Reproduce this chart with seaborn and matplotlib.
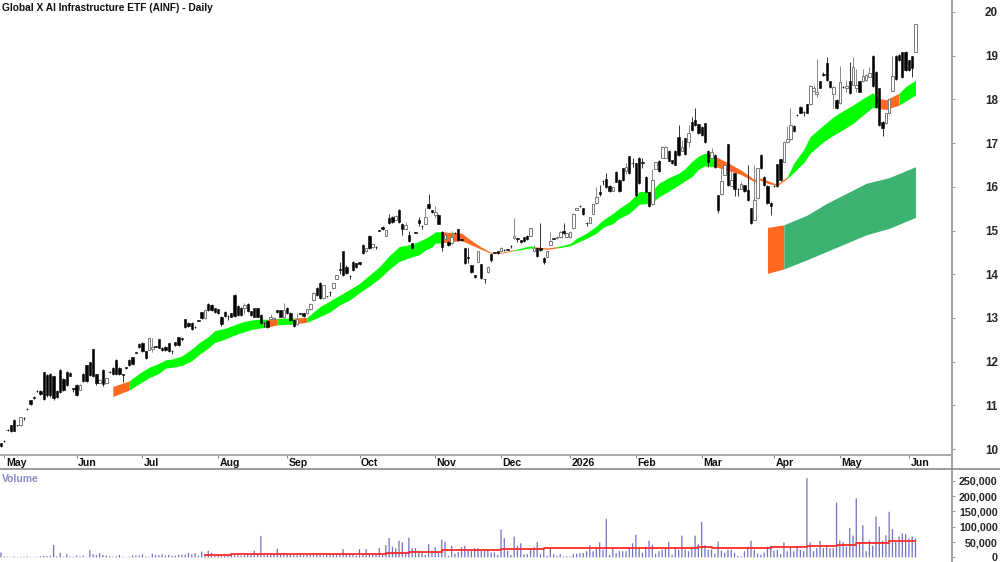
import numpy as np
import matplotlib
import matplotlib.pyplot as plt
import seaborn as sns

matplotlib.use("Agg")

# daily candles
opens = [
    10.13, 10.19, 10.44, 10.55, 10.67, 10.55, 10.54, 10.72, 10.92, 11.11,
    11.20, 11.33, 11.33, 11.76, 11.70, 11.72, 11.66, 11.33, 11.80, 11.60,
    11.77, 11.75, 11.39, 11.47, 11.35, 11.72, 11.92, 11.98, 12.28, 11.71,
    11.52, 11.81, 11.50, 11.77, 11.85, 12.04, 11.85, 11.71, 11.87, 12.04,
    12.10, 12.21, 12.40, 12.42, 12.24, 12.27, 12.28, 12.35, 12.51, 12.32,
    12.34, 12.42, 12.25, 12.44, 12.56, 12.53, 12.97, 12.89, 12.89, 12.80,
    12.95, 13.13, 12.99, 13.31, 13.30, 13.22, 13.20, 13.03, 13.13, 13.05,
    13.11, 13.53, 13.27, 13.22, 13.22, 13.32, 13.15, 13.22, 13.22, 13.07,
    12.89, 12.94, 12.97, 12.97, 13.17, 13.17, 13.03, 13.22, 13.12, 12.95,
    12.86, 13.11, 13.11, 13.11, 13.20, 13.40, 13.68, 13.81, 13.45, 13.50,
    13.60, 13.68, 13.90, 14.11, 14.53, 14.17, 13.97, 14.29, 14.25, 14.27,
    14.67, 14.52, 14.88, 14.62, 14.63, 15.00, 15.09, 14.88, 15.28, 15.32,
    15.24, 15.48, 15.16, 15.03, 14.90, 14.71, 14.96, 15.24, 15.11, 15.16,
    15.60, 15.47, 15.35, 15.36, 14.97, 14.80, 14.74, 14.71, 14.95, 15.03,
    14.80, 14.59, 14.39, 14.20, 13.98, 14.29, 14.23, 13.89, 14.04, 14.46,
    14.50, 14.53, 14.52, 14.56, 14.57, 14.65, 14.82, 14.82, 14.78, 14.84,
    14.88, 14.88, 14.52, 14.59, 14.60, 14.38, 14.40, 14.67, 14.82, 14.82,
    14.84, 14.99, 14.86, 14.84, 15.05, 15.47, 15.56, 15.51, 15.18, 15.18,
    15.38, 15.62, 15.87, 16.14, 16.17, 16.02, 15.91, 16.35, 16.16, 16.42,
    16.37, 16.70, 16.55, 16.54, 16.67, 16.56, 16.23, 15.87, 15.60, 16.41,
    16.60, 16.67, 16.67, 16.83, 16.61, 16.83, 17.15, 16.82, 17.11, 17.02,
    17.49, 17.54, 17.43, 17.37, 17.45, 16.83, 16.67, 16.73, 15.81, 15.83,
    16.27, 16.98, 16.02, 16.31, 15.96, 15.96, 16.04, 15.93, 15.51, 15.24,
    15.74, 16.73, 16.23, 16.02, 15.64, 16.02, 16.52, 16.63, 16.57, 17.02,
    17.09, 17.40, 17.65, 17.83, 17.72, 17.89, 17.89, 18.20, 18.12, 18.41,
    18.57, 18.84, 18.41, 18.12, 17.99, 17.91, 18.29, 18.27, 18.42, 18.33,
    18.27, 18.42, 18.41, 18.44, 18.52, 19.00, 18.63, 18.25, 17.49, 17.45,
    17.68, 18.20, 19.00, 19.02, 19.08, 19.09, 18.90, 18.99, 19.09,
]
closes = [
    10.07, 10.18, 10.43, 10.42, 10.42, 10.54, 10.73, 10.71, 10.91, 11.03,
    11.16, 11.32, 11.25, 11.15, 11.24, 11.24, 11.16, 11.18, 11.31, 11.35,
    11.47, 11.68, 11.38, 11.24, 11.46, 11.56, 11.56, 11.69, 11.66, 11.50,
    11.58, 11.48, 11.63, 11.76, 11.71, 11.71, 11.71, 11.70, 11.86, 11.92,
    11.95, 12.20, 12.34, 12.25, 12.08, 12.53, 12.34, 12.34, 12.32, 12.27,
    12.27, 12.24, 12.24, 12.37, 12.37, 12.52, 12.80, 12.82, 12.74, 12.79,
    12.94, 12.99, 13.18, 13.18, 13.18, 13.14, 13.11, 12.86, 13.05, 13.04,
    13.03, 13.05, 13.07, 13.07, 13.30, 13.15, 13.07, 13.03, 13.03, 12.88,
    12.88, 12.79, 13.03, 13.00, 13.13, 13.03, 13.18, 13.11, 12.95, 12.82,
    12.97, 13.10, 13.05, 13.20, 13.32, 13.58, 13.53, 13.46, 13.75, 13.49,
    13.59, 13.79, 13.98, 14.10, 13.98, 14.02, 13.96, 14.10, 14.17, 14.23,
    14.48, 14.59, 14.59, 14.68, 14.62, 14.99, 15.04, 15.01, 15.18, 15.20,
    15.34, 15.20, 15.03, 15.13, 14.76, 14.59, 14.95, 15.18, 15.10, 15.32,
    15.52, 15.42, 15.43, 15.16, 14.63, 14.90, 14.67, 14.84, 14.94, 14.78,
    14.79, 14.25, 14.38, 14.04, 13.93, 14.52, 13.91, 13.88, 14.17, 14.33,
    14.49, 14.48, 14.60, 14.55, 14.56, 14.64, 14.88, 14.81, 14.73, 14.75,
    14.80, 15.05, 14.59, 14.42, 14.55, 14.27, 14.52, 14.76, 14.81, 14.86,
    14.97, 14.94, 14.94, 14.97, 15.38, 15.51, 15.55, 15.38, 15.17, 15.30,
    15.60, 15.77, 15.83, 16.13, 16.00, 15.91, 15.99, 16.12, 15.90, 16.16,
    16.46, 16.32, 16.54, 15.81, 16.08, 16.55, 15.89, 15.56, 16.15, 16.56,
    16.37, 16.92, 16.92, 16.60, 16.54, 16.51, 16.73, 16.92, 16.75, 17.22,
    17.30, 17.41, 17.22, 17.19, 17.03, 16.57, 16.80, 16.46, 15.47, 16.13,
    16.50, 16.04, 16.15, 15.96, 15.95, 16.06, 15.91, 15.70, 15.18, 15.70,
    16.42, 16.42, 16.04, 15.62, 15.55, 16.01, 16.02, 16.15, 17.03, 17.09,
    17.41, 17.28, 17.64, 17.70, 17.71, 17.70, 18.31, 18.27, 18.18, 18.27,
    18.56, 18.44, 18.29, 18.29, 17.81, 18.39, 18.28, 18.30, 18.15, 18.73,
    18.33, 18.18, 18.54, 18.56, 18.60, 18.31, 17.82, 17.41, 17.34, 17.68,
    18.00, 18.54, 18.46, 18.90, 18.52, 18.67, 18.67, 18.72, 19.72,
]
highs = [
    10.14, 10.20, 10.45, 10.56, 10.68, 10.56, 10.74, 10.73, 10.93, 11.12,
    11.21, 11.34, 11.35, 11.77, 11.72, 11.74, 11.67, 11.35, 11.82, 11.62,
    11.78, 11.76, 11.40, 11.48, 11.48, 11.74, 11.93, 12.00, 12.29, 11.72,
    11.60, 11.83, 11.64, 11.78, 11.87, 12.06, 11.87, 11.72, 11.88, 12.05,
    12.11, 12.22, 12.42, 12.44, 12.25, 12.54, 12.53, 12.36, 12.52, 12.33,
    12.35, 12.43, 12.26, 12.45, 12.57, 12.54, 12.98, 12.90, 12.90, 12.81,
    12.96, 13.14, 13.20, 13.33, 13.31, 13.23, 13.21, 13.05, 13.15, 13.06,
    13.12, 13.54, 13.30, 13.24, 13.35, 13.33, 13.16, 13.23, 13.23, 13.08,
    12.90, 12.96, 13.10, 13.02, 13.18, 13.18, 13.33, 13.24, 13.13, 12.96,
    13.11, 13.12, 13.12, 13.21, 13.33, 13.60, 13.70, 13.83, 13.76, 13.51,
    13.61, 13.80, 13.99, 14.28, 14.54, 14.20, 13.98, 14.30, 14.26, 14.28,
    14.68, 14.60, 14.89, 14.69, 14.64, 15.01, 15.10, 15.02, 15.38, 15.33,
    15.35, 15.49, 15.17, 15.20, 14.98, 14.72, 14.97, 15.32, 15.12, 15.52,
    15.83, 15.48, 15.55, 15.37, 15.00, 14.97, 14.75, 15.00, 14.96, 15.04,
    14.81, 14.60, 14.59, 14.21, 13.99, 14.53, 14.24, 13.90, 14.18, 14.47,
    14.51, 14.54, 14.62, 14.57, 14.58, 14.66, 15.28, 14.83, 14.79, 14.85,
    14.89, 15.06, 14.67, 14.60, 15.17, 14.39, 14.53, 14.96, 14.83, 14.87,
    14.98, 15.17, 14.95, 14.98, 15.39, 15.52, 15.58, 15.52, 15.19, 15.31,
    15.61, 16.00, 16.05, 16.15, 16.32, 16.03, 16.00, 16.36, 16.17, 16.43,
    16.54, 16.71, 16.65, 16.55, 16.68, 16.65, 16.24, 15.88, 16.40, 16.57,
    16.61, 16.93, 16.93, 16.84, 16.62, 16.84, 17.42, 17.07, 17.12, 17.41,
    17.60, 17.81, 17.44, 17.38, 17.46, 16.84, 16.88, 16.74, 15.82, 16.46,
    16.51, 16.99, 16.46, 16.32, 15.97, 16.12, 16.05, 16.50, 15.52, 16.50,
    16.43, 16.74, 16.24, 16.03, 15.65, 16.03, 16.53, 16.64, 17.04, 17.38,
    17.80, 17.41, 17.66, 17.84, 17.73, 17.90, 18.32, 18.33, 18.92, 18.42,
    18.62, 18.98, 18.42, 18.30, 18.00, 18.77, 18.30, 18.44, 18.85, 18.98,
    18.70, 18.43, 18.70, 18.57, 18.73, 19.01, 18.64, 18.26, 17.50, 17.69,
    18.01, 19.00, 19.01, 19.03, 19.09, 19.10, 18.91, 19.00, 19.73,
]
lows = [
    10.05, 10.17, 10.42, 10.40, 10.41, 10.53, 10.53, 10.66, 10.90, 11.01,
    11.14, 11.31, 11.23, 11.13, 11.18, 11.20, 11.12, 11.16, 11.28, 11.33,
    11.45, 11.66, 11.30, 11.22, 11.34, 11.54, 11.54, 11.67, 11.65, 11.47,
    11.50, 11.45, 11.49, 11.75, 11.69, 11.69, 11.69, 11.54, 11.82, 11.90,
    11.93, 12.19, 12.32, 12.23, 12.06, 12.26, 12.22, 12.33, 12.30, 12.25,
    12.25, 12.22, 12.18, 12.35, 12.35, 12.48, 12.78, 12.80, 12.72, 12.78,
    12.93, 12.97, 12.97, 13.16, 13.16, 13.12, 13.09, 12.82, 13.02, 12.95,
    13.01, 13.03, 13.05, 13.05, 13.10, 13.13, 13.05, 13.01, 13.01, 12.86,
    12.80, 12.77, 12.96, 12.95, 13.11, 13.01, 13.00, 13.09, 12.93, 12.79,
    12.84, 13.08, 13.03, 13.09, 13.19, 13.38, 13.50, 13.44, 13.44, 13.47,
    13.50, 13.67, 13.89, 14.00, 13.96, 14.00, 13.90, 14.08, 14.15, 14.21,
    14.46, 14.50, 14.57, 14.60, 14.58, 14.98, 15.02, 14.87, 15.16, 15.18,
    15.23, 15.18, 14.90, 15.02, 14.74, 14.57, 14.94, 15.10, 15.03, 15.15,
    15.50, 15.40, 15.28, 15.14, 14.53, 14.79, 14.65, 14.70, 14.93, 14.76,
    14.75, 14.23, 14.25, 14.02, 13.91, 14.28, 13.89, 13.79, 14.03, 14.28,
    14.48, 14.46, 14.51, 14.54, 14.55, 14.60, 14.81, 14.74, 14.71, 14.73,
    14.78, 14.87, 14.50, 14.40, 14.53, 14.23, 14.39, 14.66, 14.80, 14.81,
    14.83, 14.92, 14.85, 14.83, 15.04, 15.46, 15.54, 15.36, 15.10, 15.17,
    15.37, 15.61, 15.78, 16.05, 15.98, 15.89, 15.90, 16.10, 15.88, 16.14,
    16.30, 16.30, 16.46, 15.77, 16.06, 16.42, 15.87, 15.54, 15.59, 16.40,
    16.35, 16.66, 16.66, 16.58, 16.52, 16.49, 16.71, 16.81, 16.73, 16.92,
    17.28, 17.39, 17.20, 17.17, 17.01, 16.46, 16.66, 16.44, 15.39, 15.82,
    16.26, 16.02, 16.01, 15.80, 15.80, 15.95, 15.89, 15.68, 15.16, 15.23,
    15.73, 16.40, 16.02, 15.60, 15.35, 15.99, 16.00, 16.13, 16.56, 17.01,
    17.08, 17.26, 17.63, 17.68, 17.63, 17.68, 17.88, 18.19, 18.06, 18.25,
    18.54, 18.42, 18.27, 17.80, 17.79, 17.90, 18.26, 18.17, 18.13, 18.32,
    18.17, 18.16, 18.40, 18.43, 18.51, 18.29, 17.80, 17.39, 17.17, 17.44,
    17.67, 18.19, 18.44, 18.88, 18.50, 18.65, 18.65, 18.52, 19.08,
]

# volume per day, in thousands
volume_k = [
    16, 3, 2, 1, 3, 1, 2, 2, 3, 1,
    1, 2, 3, 5, 4, 5, 40, 3, 15, 2,
    10, 3, 2, 6, 3, 5, 1, 23, 10, 7,
    14, 8, 6, 4, 2, 4, 8, 2, 1, 2,
    7, 6, 6, 10, 3, 2, 12, 8, 7, 10,
    6, 8, 5, 5, 8, 9, 9, 14, 10, 14,
    6, 19, 12, 22, 15, 9, 8, 5, 6, 7,
    8, 7, 7, 6, 7, 8, 9, 22, 8, 70,
    7, 10, 12, 10, 28, 11, 15, 14, 8, 7,
    7, 8, 7, 8, 9, 10, 13, 10, 6, 8,
    10, 9, 10, 12, 27, 9, 8, 8, 6, 27,
    12, 27, 11, 12, 11, 30, 9, 40, 63, 35,
    30, 54, 49, 10, 64, 30, 30, 22, 20, 8,
    43, 22, 33, 18, 58, 51, 5, 38, 12, 18,
    33, 38, 25, 20, 30, 30, 22, 20, 22, 16,
    16, 8, 91, 63, 22, 8, 68, 38, 46, 10,
    10, 30, 33, 50, 10, 27, 5, 30, 10, 5,
    11, 3, 3, 3, 10, 12, 14, 14, 20, 40,
    20, 30, 49, 25, 126, 8, 30, 14, 20, 20,
    20, 30, 46, 74, 33, 15, 35, 54, 41, 12,
    20, 25, 28, 51, 8, 27, 25, 71, 25, 20,
    35, 71, 43, 115, 40, 25, 25, 12, 52, 22,
    15, 25, 25, 15, 5, 3, 20, 35, 54, 25,
    12, 8, 15, 35, 38, 22, 25, 10, 49, 20,
    35, 20, 38, 25, 20, 259, 49, 20, 30, 54,
    30, 35, 30, 30, 179, 55, 50, 35, 96, 71,
    193, 49, 105, 20, 55, 38, 133, 101, 54, 72,
    149, 92, 50, 68, 78, 76, 62, 68, 62,
]

# volume average, sampled where it steps
vol_avg_days = [62, 70, 100, 117, 124, 134, 152, 165, 184, 194, 212, 216, 234, 245, 254, 260, 265, 270, 278]
vol_avg_k = [7, 10, 12, 15, 18, 24, 27, 31, 29, 31, 35, 31, 35, 38, 41, 46, 48, 53, 55]

# upper ribbon
ribbon_days = [
    34, 39, 42, 45, 48, 50, 52, 55, 58, 60, 63, 65, 68, 71, 73, 76, 78, 81, 84, 89,
    93, 97, 100, 103, 106, 109, 112, 115, 118, 121, 125, 127, 129, 131, 132, 134, 140, 143, 146, 149,
    152, 156, 161, 162, 166, 169, 173, 175, 178, 181, 183, 186, 188, 191, 194, 197, 198, 200, 203, 206,
    208, 210, 212, 214, 217, 221, 225, 229, 231, 233, 236, 239, 241, 244, 246, 250, 253, 256, 259, 262,
    265, 267, 269, 273, 275, 278,
]
ribbon_top = [
    11.43, 11.56, 11.73, 11.87, 11.96, 12.04, 12.06, 12.13, 12.29, 12.42, 12.57, 12.71, 12.76, 12.84, 12.90, 12.95, 12.97, 12.97, 12.99, 13.00,
    13.01, 13.26, 13.39, 13.52, 13.65, 13.79, 13.98, 14.17, 14.42, 14.63, 14.69, 14.75, 14.82, 14.91, 14.97, 14.97, 14.94, 14.77, 14.62, 14.50,
    14.50, 14.56, 14.65, 14.63, 14.60, 14.63, 14.70, 14.82, 14.94, 15.10, 15.24, 15.39, 15.51, 15.66, 15.89, 15.89, 15.92, 16.08, 16.21, 16.31,
    16.42, 16.58, 16.70, 16.77, 16.70, 16.55, 16.38, 16.17, 16.20, 16.14, 16.06, 16.23, 16.54, 16.85, 17.15, 17.41, 17.60, 17.74, 17.87, 18.02,
    18.15, 18.02, 17.99, 18.14, 18.29, 18.44,
]
ribbon_bot = [
    11.20, 11.35, 11.49, 11.63, 11.73, 11.85, 11.87, 11.91, 12.02, 12.15, 12.31, 12.44, 12.51, 12.61, 12.66, 12.73, 12.76, 12.79, 12.84, 12.86,
    12.90, 13.03, 13.14, 13.30, 13.41, 13.58, 13.73, 13.90, 14.11, 14.29, 14.40, 14.44, 14.55, 14.62, 14.71, 14.72, 14.77, 14.67, 14.57, 14.48,
    14.48, 14.54, 14.60, 14.59, 14.57, 14.60, 14.65, 14.72, 14.82, 14.94, 15.07, 15.16, 15.28, 15.39, 15.60, 15.62, 15.64, 15.77, 15.90, 16.04,
    16.14, 16.23, 16.40, 16.48, 16.46, 16.38, 16.28, 16.12, 16.15, 16.08, 16.03, 16.19, 16.33, 16.55, 16.77, 17.03, 17.18, 17.31, 17.45, 17.64,
    17.82, 17.79, 17.77, 17.87, 17.96, 18.10,
]
# colour of the stretch starting at each ribbon day, 1 = green, 0 = orange
ribbon_up = [
    0, 1, 1, 1, 1, 1, 1, 1, 1, 1, 1, 1, 1, 1, 1, 1, 1, 0, 1, 0,
    1, 1, 1, 1, 1, 1, 1, 1, 1, 1, 1, 1, 1, 1, 1, 0, 0, 0, 0, 0,
    0, 1, 1, 0, 0, 1, 1, 1, 1, 1, 1, 1, 1, 1, 1, 0, 1, 1, 1, 1,
    1, 1, 1, 1, 0, 0, 0, 0, 0, 0, 0, 1, 1, 1, 1, 1, 1, 1, 1, 1,
    1, 0, 0, 1, 1, 1,
]

# lower ribbon
lower_days = [233, 238, 245, 251, 257, 263, 270, 278]
lower_top = [15.07, 15.13, 15.35, 15.62, 15.85, 16.08, 16.21, 16.46]
lower_bot = [14.02, 14.12, 14.33, 14.52, 14.71, 14.90, 15.05, 15.30]
lower_up = [0, 1, 1, 1, 1, 1, 1, 1]

month_days = [1, 23, 43, 66, 87, 109, 132, 152, 173, 193, 213, 235, 255, 276]
month_labels = ["May", "Jun", "Jul", "Aug", "Sep", "Oct", "Nov", "Dec", "2026", "Feb", "Mar", "Apr", "May", "Jun"]
price_ticks = [10, 11, 12, 13, 14, 15, 16, 17, 18, 19, 20]
volume_ticks = [0, 50000, 100000, 150000, 200000, 250000]

GREEN = "#00ff00"
ORANGE = "#ff6a20"
SEA = "#3cb371"
VOL = "#7070c4"
AXIS = "#9a9a9a"

sns.set_theme(style="white")
plt.rcParams["font.family"] = ["Liberation Sans", "DejaVu Sans"]
plt.rcParams["font.weight"] = "bold"

W, H = 1000, 562
fig = plt.figure(figsize=(W / 100, H / 100), dpi=100)


def pane(top, bottom):
    # pixel rows to a figure axes running from the left edge to the price scale
    return fig.add_axes([0, 1 - bottom / H, 952 / W, (bottom - top) / H])


ax = pane(0, 455)
ax_dates = pane(455, 469)
ax_vol = pane(469, 562)

days = np.arange(len(opens))
opens = np.array(opens)
closes = np.array(closes)
highs = np.array(highs)
lows = np.array(lows)


def draw_ribbon(axis, x, top, bot, up, up_color):
    # one polygon per run of the same colour, so no seams show inside a run
    start = 0
    for k in range(1, len(x)):
        if k == len(x) - 1 or up[k] != up[start]:
            axis.fill_between(
                x[start : k + 1],
                top[start : k + 1],
                bot[start : k + 1],
                color=up_color if up[start] else ORANGE,
                linewidth=0,
                zorder=1,
            )
            start = k


draw_ribbon(ax, ribbon_days, ribbon_top, ribbon_bot, ribbon_up, GREEN)
draw_ribbon(ax, lower_days, lower_top, lower_bot, lower_up, SEA)

# candles, hollow when the close is above the open
rising = closes > opens
falling = ~rising
ax.vlines(days[rising], lows[rising], highs[rising], color="#8a8a8a", linewidth=0.7, zorder=2)
ax.vlines(days[falling], lows[falling], highs[falling], color="#333333", linewidth=0.7, zorder=2)
ax.bar(
    days[rising],
    (closes - opens)[rising],
    bottom=opens[rising],
    width=0.8,
    facecolor="white",
    edgecolor="#7a7a7a",
    linewidth=0.7,
    zorder=3,
)
ax.bar(
    days[falling],
    (opens - closes)[falling],
    bottom=closes[falling],
    width=0.7,
    facecolor="black",
    edgecolor="black",
    linewidth=0.4,
    zorder=3,
)

sns.barplot(
    x=days,
    y=np.array(volume_k) * 1000,
    native_scale=True,
    width=0.38,
    color=VOL,
    linewidth=0,
    saturation=1,
    ax=ax_vol,
    zorder=2,
)
# no pixel snapping, otherwise the one pixel bars come out uneven
for bar in ax_vol.patches:
    bar.set_snap(False)
sns.lineplot(
    x=vol_avg_days,
    y=np.array(vol_avg_k) * 1000,
    drawstyle="steps-post",
    color="#ff2a2a",
    linewidth=1.3,
    errorbar=None,
    ax=ax_vol,
    zorder=3,
)

x_min, x_max = -0.3, 289.1
for a in (ax, ax_dates, ax_vol):
    a.set_xlim(x_min, x_max)
    a.set_xlabel("")
    a.set_ylabel("")
    a.set_xticks([])
    for side in ("left", "top", "bottom"):
        a.spines[side].set_visible(False)
    a.spines["right"].set_color(AXIS)
    a.spines["right"].set_linewidth(1.3)
    a.yaxis.tick_right()

ax.set_ylim(20 - 443 / 43.7, 20 + 12 / 43.7)
ax.set_yticks(price_ticks)
ax.tick_params(axis="y", length=2.5, width=0.8, color=AXIS, pad=30.5, labelsize=8.4)
for label in ax.get_yticklabels():
    label.set_ha("right")

ax_vol.set_ylim(-15200, 288700)
ax_vol.set_yticks(volume_ticks)
ax_vol.set_yticklabels([f"{v:,}" for v in volume_ticks])
ax_vol.tick_params(axis="y", length=2.5, width=0.8, color=AXIS, pad=30.5, labelsize=7.7)
for label in ax_vol.get_yticklabels():
    label.set_ha("right")

# date band between the panes
ax_dates.set_ylim(0, 1)
ax_dates.set_yticks([])
ax_dates.spines["top"].set_visible(True)
ax_dates.spines["top"].set_color("#a8a8a8")
ax_dates.spines["top"].set_linewidth(1.4)
ax_dates.set_xticks(month_days)
ax_dates.set_xticklabels([])
ax_dates.xaxis.tick_top()
ax_dates.tick_params(axis="x", direction="in", length=2, width=0.8, color="#8a8a8a")
for d, name in zip(month_days, month_labels):
    ax_dates.annotate(
        name,
        (d, 0.42),
        xytext=(1.1, 0),
        textcoords="offset points",
        va="center",
        ha="left",
        fontsize=7.6,
        color="#111111",
    )

fig.add_artist(plt.Line2D([0, 1], [1 - 469 / H] * 2, color="#808080", linewidth=1.1))

ax.text(2 / 952, 1 - 8 / 455, "Global X AI Infrastructure ETF (AINF) - Daily", transform=ax.transAxes, fontsize=7.3, va="center", ha="left", color="#111111")
ax_vol.text(2 / 952, 1 - 9.5 / 93, "Volume", transform=ax_vol.transAxes, fontsize=7.5, va="center", ha="left", color="#8a8ac8")

plt.savefig("out.png", dpi=100)
